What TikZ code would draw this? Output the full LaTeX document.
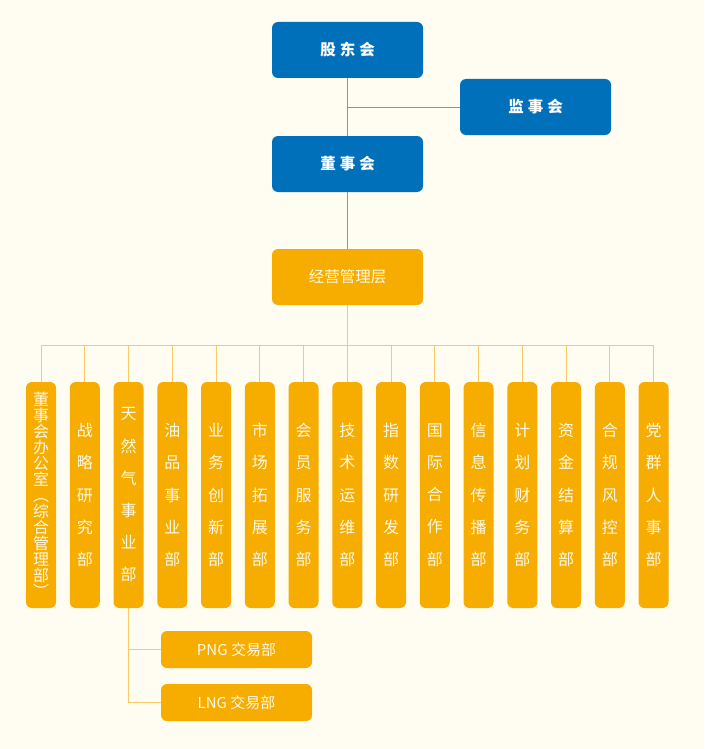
\documentclass[tikz,border=0pt]{standalone}
\usepackage{fontspec}
\setmainfont{Noto Sans CJK SC}
\usepackage{xcolor}
\usetikzlibrary{positioning}
\definecolor{bgcream}{HTML}{FFFDF1}
\definecolor{boardblue}{HTML}{0070BB}
\definecolor{deptorange}{HTML}{F7AC00}
\definecolor{blueline}{HTML}{5DA3D6}
\definecolor{orangeline}{HTML}{F8C965}
\definecolor{softwhite}{HTML}{FFF9E6}

\begin{document}
\begin{tikzpicture}[x=1pt, y=-1pt,
    boardbox/.style={fill=boardblue, rounded corners=6pt, minimum width=151pt,
      minimum height=56pt, text=white, font=\bfseries\fontsize{15.5}{18}\selectfont},
    mgmtbox/.style={fill=deptorange, rounded corners=6pt, minimum width=151pt,
      minimum height=56pt, text=softwhite, font=\fontsize{15.5}{18}\selectfont},
    deptbox/.style={fill=deptorange, rounded corners=6pt, minimum width=30pt,
      minimum height=226pt, inner sep=0pt, align=center, text=softwhite,
      font=\fontsize{16}{32.2}\selectfont},
    tradebox/.style={fill=deptorange, rounded corners=6pt, minimum width=151pt,
      minimum height=37pt, text=softwhite, font=\fontsize{15}{18}\selectfont},
    bline/.style={blueline, line width=0.9pt},
    oline/.style={orangeline, line width=0.9pt}]
  % --- background ---
  \fill[bgcream] (0,0) rectangle (704,749);
  \useasboundingbox (0,0) rectangle (704,749);
  % --- top level ---
  \node[boardbox] (gd) at (347.5,50) {股\hspace{4pt}东\hspace{4pt}会};
  \node[boardbox] (jsh) at (535.5,107) {监\hspace{4pt}事\hspace{4pt}会};
  \node[boardbox] (dsh) at (347.5,164) {董\hspace{4pt}事\hspace{4pt}会};
  \node[mgmtbox] (jy) at (347.5,277) {经营管理层};
  % --- departments ---
  \node[deptbox, font=\fontsize{16}{16}\selectfont] (d1) at (41,495)
    {董\\事\\会\\办\\公\\室\\︵\\综\\合\\管\\理\\部\\︶};
  \foreach \lab [count=\i from 2] in {{战\\略\\研\\究\\部}, {天\\然\\气\\事\\业\\部},
      {油\\品\\事\\业\\部}, {业\\务\\创\\新\\部}, {市\\场\\拓\\展\\部},
      {会\\员\\服\\务\\部}, {技\\术\\运\\维\\部}, {指\\数\\研\\发\\部},
      {国\\际\\合\\作\\部}, {信\\息\\传\\播\\部}, {计\\划\\财\\务\\部},
      {资\\金\\结\\算\\部}, {合\\规\\风\\控\\部}, {党\\群\\人\\事\\部}}
    \node[deptbox] (d\i) at ({41+43.75*(\i-1)},495) {\lab};
  % --- trading desks ---
  \node[tradebox] (png) at (236.5,649.5) {PNG 交易部};
  \node[tradebox] (lng) at (236.5,702.5) {LNG 交易部};
  % --- connectors ---
  \draw[bline] (gd.south) -- (dsh.north);
  \draw[bline] (jsh.west) -- (jsh.west -| gd.south);
  \draw[bline] (dsh.south) -- (jy.north);
  \coordinate (bus) at (347.5,345);
  \draw[oline] (jy.south) -- (bus);
  \draw[oline] (d1.north |- bus) -- (d15.north |- bus);
  \foreach \i in {1,...,15}
    \draw[oline] (d\i.north |- bus) -- (d\i.north);
  \draw[oline] (d3.south) -- (d3.south |- lng.west) -- (lng.west);
  \draw[oline] (png.west -| d3.south) -- (png.west);
\end{tikzpicture}
\end{document}
